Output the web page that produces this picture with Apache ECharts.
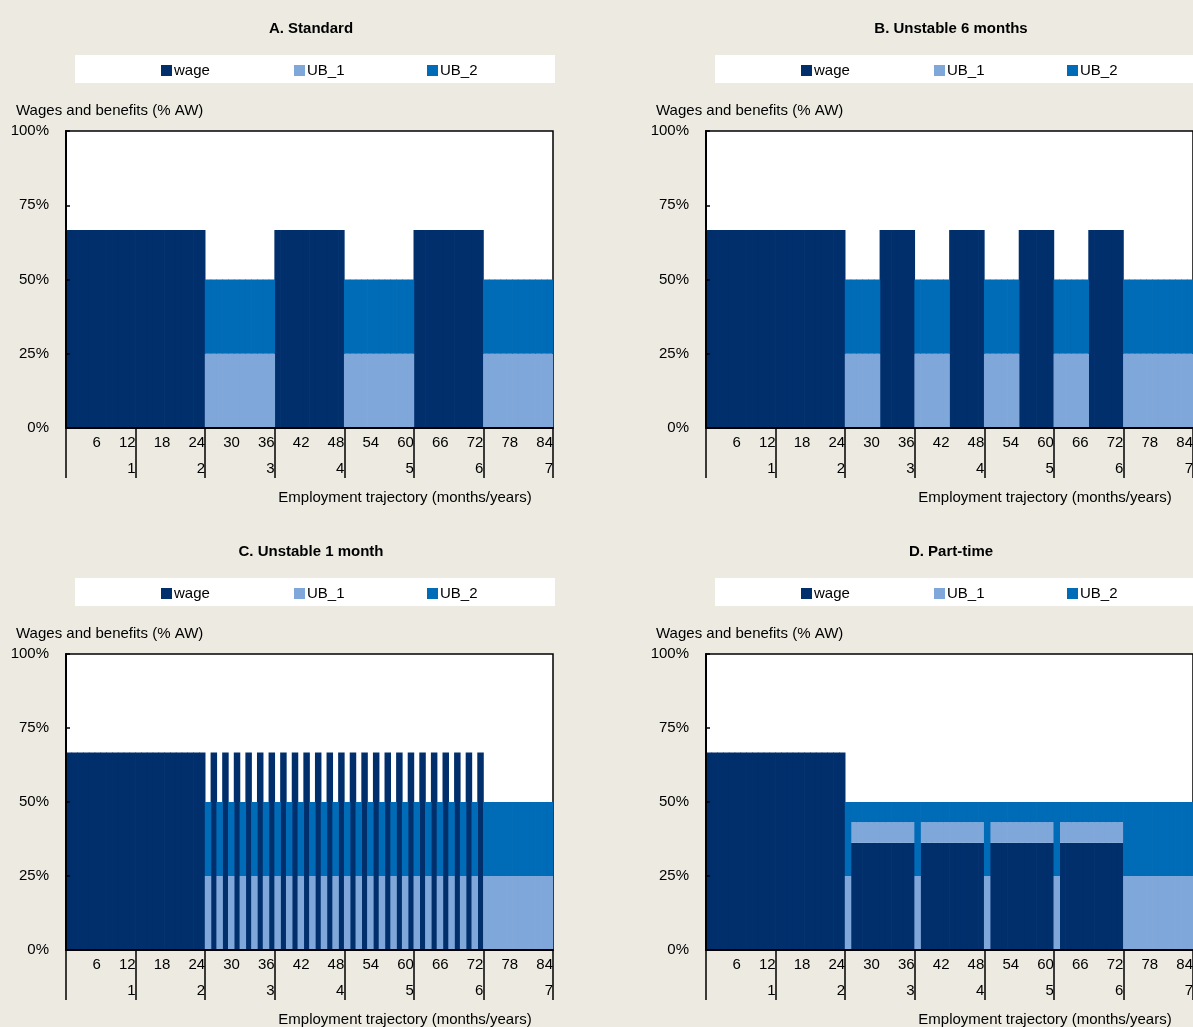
<!DOCTYPE html>
<html>
<head>
<meta charset="utf-8">
<script src="https://cdn.jsdelivr.net/npm/echarts@6/dist/echarts.min.js"></script>
<style>
    html, body { margin: 0; padding: 0; background: #edebe1; }
    #chart { width: 1193px; height: 1027px; }
</style>
</head>
<body>
<div id="chart"></div>
<script>
// categories: months 1..84
const months = Array.from({ length: 84 }, (_, i) => String(i + 1));
const monthTicks = ['6', '12', '18', '24', '30', '36', '42', '48', '54', '60', '66', '72', '78', '84'];
const yearTicks = ['1', '2', '3', '4', '5', '6', '7'];
const seriesNames = ['wage', 'UB_1', 'UB_2'];
const panelTitles = ['A. Standard', 'B. Unstable 6 months', 'C. Unstable 1 month', 'D. Part-time'];

// one row per year (12 months)
const wageA = [
    66.7,66.7,66.7,66.7,66.7,66.7,66.7,66.7,66.7,66.7,66.7,66.7,
    66.7,66.7,66.7,66.7,66.7,66.7,66.7,66.7,66.7,66.7,66.7,66.7,
    0,0,0,0,0,0,0,0,0,0,0,0,
    66.7,66.7,66.7,66.7,66.7,66.7,66.7,66.7,66.7,66.7,66.7,66.7,
    0,0,0,0,0,0,0,0,0,0,0,0,
    66.7,66.7,66.7,66.7,66.7,66.7,66.7,66.7,66.7,66.7,66.7,66.7,
    0,0,0,0,0,0,0,0,0,0,0,0
];
const ub1A = [
    0,0,0,0,0,0,0,0,0,0,0,0,
    0,0,0,0,0,0,0,0,0,0,0,0,
    25,25,25,25,25,25,25,25,25,25,25,25,
    0,0,0,0,0,0,0,0,0,0,0,0,
    25,25,25,25,25,25,25,25,25,25,25,25,
    0,0,0,0,0,0,0,0,0,0,0,0,
    25,25,25,25,25,25,25,25,25,25,25,25
];
const ub2A = [
    0,0,0,0,0,0,0,0,0,0,0,0,
    0,0,0,0,0,0,0,0,0,0,0,0,
    25,25,25,25,25,25,25,25,25,25,25,25,
    0,0,0,0,0,0,0,0,0,0,0,0,
    25,25,25,25,25,25,25,25,25,25,25,25,
    0,0,0,0,0,0,0,0,0,0,0,0,
    25,25,25,25,25,25,25,25,25,25,25,25
];

const wageB = [
    66.7,66.7,66.7,66.7,66.7,66.7,66.7,66.7,66.7,66.7,66.7,66.7,
    66.7,66.7,66.7,66.7,66.7,66.7,66.7,66.7,66.7,66.7,66.7,66.7,
    0,0,0,0,0,0,66.7,66.7,66.7,66.7,66.7,66.7,
    0,0,0,0,0,0,66.7,66.7,66.7,66.7,66.7,66.7,
    0,0,0,0,0,0,66.7,66.7,66.7,66.7,66.7,66.7,
    0,0,0,0,0,0,66.7,66.7,66.7,66.7,66.7,66.7,
    0,0,0,0,0,0,0,0,0,0,0,0
];
const ub1B = [
    0,0,0,0,0,0,0,0,0,0,0,0,
    0,0,0,0,0,0,0,0,0,0,0,0,
    25,25,25,25,25,25,0,0,0,0,0,0,
    25,25,25,25,25,25,0,0,0,0,0,0,
    25,25,25,25,25,25,0,0,0,0,0,0,
    25,25,25,25,25,25,0,0,0,0,0,0,
    25,25,25,25,25,25,25,25,25,25,25,25
];
const ub2B = [
    0,0,0,0,0,0,0,0,0,0,0,0,
    0,0,0,0,0,0,0,0,0,0,0,0,
    25,25,25,25,25,25,0,0,0,0,0,0,
    25,25,25,25,25,25,0,0,0,0,0,0,
    25,25,25,25,25,25,0,0,0,0,0,0,
    25,25,25,25,25,25,0,0,0,0,0,0,
    25,25,25,25,25,25,25,25,25,25,25,25
];

const wageC = [
    66.7,66.7,66.7,66.7,66.7,66.7,66.7,66.7,66.7,66.7,66.7,66.7,
    66.7,66.7,66.7,66.7,66.7,66.7,66.7,66.7,66.7,66.7,66.7,66.7,
    0,66.7,0,66.7,0,66.7,0,66.7,0,66.7,0,66.7,
    0,66.7,0,66.7,0,66.7,0,66.7,0,66.7,0,66.7,
    0,66.7,0,66.7,0,66.7,0,66.7,0,66.7,0,66.7,
    0,66.7,0,66.7,0,66.7,0,66.7,0,66.7,0,66.7,
    0,0,0,0,0,0,0,0,0,0,0,0
];
const ub1C = [
    0,0,0,0,0,0,0,0,0,0,0,0,
    0,0,0,0,0,0,0,0,0,0,0,0,
    25,0,25,0,25,0,25,0,25,0,25,0,
    25,0,25,0,25,0,25,0,25,0,25,0,
    25,0,25,0,25,0,25,0,25,0,25,0,
    25,0,25,0,25,0,25,0,25,0,25,0,
    25,25,25,25,25,25,25,25,25,25,25,25
];
const ub2C = [
    0,0,0,0,0,0,0,0,0,0,0,0,
    0,0,0,0,0,0,0,0,0,0,0,0,
    25,0,25,0,25,0,25,0,25,0,25,0,
    25,0,25,0,25,0,25,0,25,0,25,0,
    25,0,25,0,25,0,25,0,25,0,25,0,
    25,0,25,0,25,0,25,0,25,0,25,0,
    25,25,25,25,25,25,25,25,25,25,25,25
];

const wageD = [
    66.7,66.7,66.7,66.7,66.7,66.7,66.7,66.7,66.7,66.7,66.7,66.7,
    66.7,66.7,66.7,66.7,66.7,66.7,66.7,66.7,66.7,66.7,66.7,66.7,
    0,36.2,36.2,36.2,36.2,36.2,36.2,36.2,36.2,36.2,36.2,36.2,
    0,36.2,36.2,36.2,36.2,36.2,36.2,36.2,36.2,36.2,36.2,36.2,
    0,36.2,36.2,36.2,36.2,36.2,36.2,36.2,36.2,36.2,36.2,36.2,
    0,36.2,36.2,36.2,36.2,36.2,36.2,36.2,36.2,36.2,36.2,36.2,
    0,0,0,0,0,0,0,0,0,0,0,0
];
const ub1D = [
    0,0,0,0,0,0,0,0,0,0,0,0,
    0,0,0,0,0,0,0,0,0,0,0,0,
    25,7,7,7,7,7,7,7,7,7,7,7,
    25,7,7,7,7,7,7,7,7,7,7,7,
    25,7,7,7,7,7,7,7,7,7,7,7,
    25,7,7,7,7,7,7,7,7,7,7,7,
    25,25,25,25,25,25,25,25,25,25,25,25
];
const ub2D = [
    0,0,0,0,0,0,0,0,0,0,0,0,
    0,0,0,0,0,0,0,0,0,0,0,0,
    25,6.8,6.8,6.8,6.8,6.8,6.8,6.8,6.8,6.8,6.8,6.8,
    25,6.8,6.8,6.8,6.8,6.8,6.8,6.8,6.8,6.8,6.8,6.8,
    25,6.8,6.8,6.8,6.8,6.8,6.8,6.8,6.8,6.8,6.8,6.8,
    25,6.8,6.8,6.8,6.8,6.8,6.8,6.8,6.8,6.8,6.8,6.8,
    25,25,25,25,25,25,25,25,25,25,25,25
];

const panelData = [
    [wageA, ub1A, ub2A],
    [wageB, ub1B, ub2B],
    [wageC, ub1C, ub2C],
    [wageD, ub1D, ub2D]
];

const colors = ['#002f6c', '#7fa7d9', '#006bb6'];
const font = '"Liberation Sans Narrow", "Arial Narrow", "Liberation Sans", Arial, sans-serif';
const txt = { color: '#000', fontFamily: font, fontSize: 15 };

// panel positions (plot area)
const boxes = [
    { left: 66, top: 131, height: 297 },
    { left: 706, top: 131, height: 297 },
    { left: 66, top: 654, height: 296 },
    { left: 706, top: 654, height: 296 }
];
const plotWidth = 487;
// legend item offsets from plot left
const legendOffsets = [95, 228, 361];

const grid = [], xAxis = [], yAxis = [], series = [], legend = [], graphic = [];

boxes.forEach((b, i) => {
    grid.push({
        left: b.left, top: b.top, width: plotWidth, height: b.height,
        outerBoundsMode: 'none',
        show: true, backgroundColor: '#fff', borderColor: '#000', borderWidth: 1.5
    });

    // category axis carrying the bars
    xAxis.push({
        type: 'category', gridIndex: i, data: months, z: 5, position: 'bottom',
        axisLine: { lineStyle: { color: '#000', width: 2 } },
        axisTick: { show: false },
        axisLabel: { show: false }
    });
    // month labels
    xAxis.push({
        type: 'value', gridIndex: i, min: 0, max: 84, interval: 6, position: 'bottom',
        axisLine: { show: false }, axisTick: { show: false }, splitLine: { show: false },
        axisLabel: {
            ...txt, align: 'right', margin: 7,
            formatter: v => monthTicks[v / 6 - 1] || ''
        }
    });
    // year labels + separators
    xAxis.push({
        type: 'value', gridIndex: i, min: 0, max: 84, interval: 12, z: 5, position: 'bottom',
        axisLine: { show: false }, splitLine: { show: false },
        axisTick: { show: true, length: 50, lineStyle: { color: '#000', width: 1.5 } },
        axisLabel: {
            ...txt, align: 'right', margin: 33,
            formatter: v => yearTicks[v / 12 - 1] || ''
        }
    });

    yAxis.push({
        type: 'value', gridIndex: i, min: 0, max: 100, interval: 25, z: 5,
        axisLine: { show: true, lineStyle: { color: '#000', width: 2 } },
        axisTick: { show: true, inside: true, length: 4, lineStyle: { color: '#000', width: 1.5 } },
        splitLine: { show: false },
        axisLabel: { ...txt, margin: 17, padding: [4, 0, 0, 0], formatter: '{value}%' }
    });

    panelData[i].forEach((d, k) => {
        series.push({
            name: seriesNames[k],
            type: 'bar',
            xAxisIndex: i * 3,
            yAxisIndex: i,
            stack: 'p' + i,
            barWidth: '112%',
            barGap: '-100%',
            itemStyle: { color: colors[k] },
            emphasis: { disabled: true },
            data: d
        });

        legend.push({
            data: [seriesNames[k]],
            left: b.left + legendOffsets[k],
            top: b.top - 68,
            padding: 0,
            itemWidth: 11,
            itemHeight: 11,
            icon: 'rect',
            textStyle: { ...txt, padding: [0, 0, 0, -3] },
            selectedMode: false
        });
    });

    // white legend box
    graphic.push({
        type: 'rect', z: -1,
        shape: { x: b.left + 9, y: b.top - 76, width: Math.min(480, 1193 - b.left - 9), height: 28 },
        style: { fill: '#fff' }
    });
    // panel title
    graphic.push({
        type: 'text',
        x: b.left + 245, y: b.top - 102,
        style: {
            text: panelTitles[i], fill: '#000', font: 'bold 15px ' + font,
            textAlign: 'center', textVerticalAlign: 'middle'
        }
    });
    // y axis name
    graphic.push({
        type: 'text',
        x: b.left - 50, y: b.top - 20,
        style: {
            text: 'Wages and benefits (% AW)', fill: '#000', font: '15px ' + font,
            textAlign: 'left', textVerticalAlign: 'middle'
        }
    });
    // x axis name
    graphic.push({
        type: 'text',
        x: b.left + 339, y: b.top + b.height + 70,
        style: {
            text: 'Employment trajectory (months/years)', fill: '#000', font: '15px ' + font,
            textAlign: 'center', textVerticalAlign: 'middle'
        }
    });
});

const chart = echarts.init(document.getElementById('chart'));
chart.setOption({
    backgroundColor: '#edebe1',
    animation: false,
    grid,
    xAxis,
    yAxis,
    legend,
    graphic,
    series
});
</script>
</body>
</html>
